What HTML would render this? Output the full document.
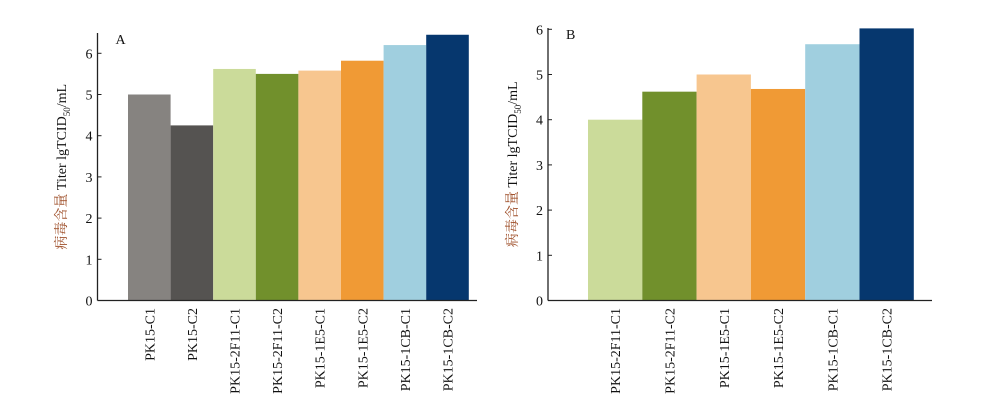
<!DOCTYPE html>
<html><head><meta charset="utf-8"><style>
body{margin:0;background:#fff;}
svg text{font-family:"Liberation Serif","Noto Serif CJK SC",serif;}
</style></head><body>
<svg id="chart" width="1000" height="401" xmlns="http://www.w3.org/2000/svg"></svg>
<script>
const catsA=["PK15-C1","PK15-C2","PK15-2F11-C1","PK15-2F11-C2","PK15-1E5-C1","PK15-1E5-C2","PK15-1CB-C1","PK15-1CB-C2"];
const valsA=[5.0,4.25,5.62,5.5,5.58,5.82,6.2,6.45];
const colorsA=["#868380","#555351","#cbdb9a","#71902c","#f7c68f","#f09a35","#a0cfdf","#06376e"];
const catsB=["PK15-2F11-C1","PK15-2F11-C2","PK15-1E5-C1","PK15-1E5-C2","PK15-1CB-C1","PK15-1CB-C2"];
const valsB=[4.0,4.62,5.0,4.68,5.67,6.02];
const colorsB=["#cbdb9a","#71902c","#f7c68f","#f09a35","#a0cfdf","#06376e"];
const ticks=[0,1,2,3,4,5,6];
const NS="http://www.w3.org/2000/svg";
const svg=document.getElementById('chart');
function mk(t,a,p){const e=document.createElementNS(NS,t);for(const k in a)e.setAttribute(k,a[k]);(p||svg).appendChild(e);return e;}
function panel(id,letter,cats,vals,colors,ax,base,unit,top,x0,bw,axEnd,titleX){
  const g=mk('g',{});
  
  
  const y=v=>base-v*unit;
  cats.forEach((c,i)=>{
    const r=mk('rect',{x:x0+i*bw,y:y(vals[i]),width:bw,height:base-y(vals[i]),fill:colors[i]},g);
    
    
    const cx=x0+i*bw+bw/2+5;
    const t=mk('text',{x:0,y:0,transform:`translate(${cx},308) rotate(-90)`,'text-anchor':'end','font-size':14,fill:'#111'},g);
    t.textContent=c;
    
    
  });
  const yl=mk('line',{x1:ax,y1:top,x2:ax,y2:base,stroke:'#222','stroke-width':1.3},g);
  
  
  const xl=mk('line',{x1:ax,y1:base,x2:axEnd,y2:base,stroke:'#222','stroke-width':1.3},g);
  
  
  ticks.forEach(v=>{
    const tk=mk('line',{x1:ax,y1:y(v),x2:ax+4,y2:y(v),stroke:'#222'},g);
    
    
    const tl=mk('text',{x:ax-5,y:y(v)+5,'text-anchor':'end','font-size':14,fill:'#111'},g);
    tl.textContent=v;
    
    
  });
  const L=mk('text',{x:ax+18,y:top+11,'font-size':14,fill:'#111'},g);
  L.textContent=letter;
  
  
  const tt=mk('text',{x:0,y:0,transform:`translate(${titleX},${(top+base)/2}) rotate(-90)`,'text-anchor':'middle','font-size':14,fill:'#111'},g);
  
  
  const s1=mk('tspan',{fill:'#a0522d'},tt);s1.textContent='病毒含量 ';
  const s2=mk('tspan',{},tt);s2.textContent='Titer lgTCID';
  const s3=mk('tspan',{'font-size':9,dy:4},tt);s3.textContent='50';
  const s4=mk('tspan',{dy:-4},tt);s4.textContent='/mL';
}
panel('a','A',catsA,valsA,colorsA,97.5,300.5,41.2,33,128,42.6,477,66);
panel('b','B',catsB,valsB,colorsB,548,300.5,45.2,28,588,54.3,932,517);
</script>
</body></html>
